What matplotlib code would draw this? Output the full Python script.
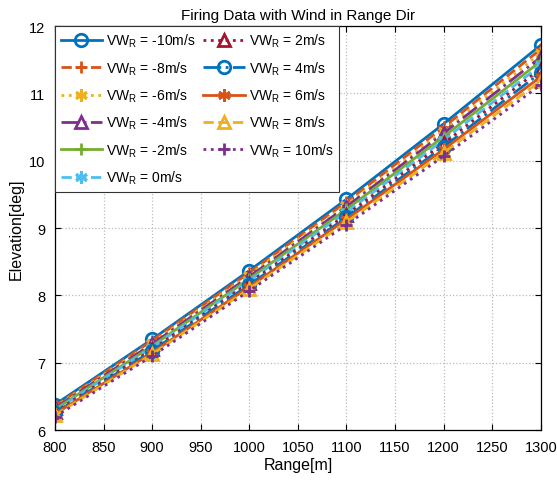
import numpy as np
import matplotlib
matplotlib.use('Agg')
import matplotlib.pyplot as plt

plt.rcParams['font.family'] = ['Liberation Sans', 'DejaVu Sans']
plt.rcParams['mathtext.fontset'] = 'custom'
plt.rcParams['mathtext.rm'] = 'Liberation Sans'

# 射程
ranges = [800, 900, 1000, 1100, 1200, 1300]
winds = [-10, -8, -6, -4, -2, 0, 2, 4, 6, 8, 10]

# 各风速下的射角
elev = [
    [6.38, 7.35, 8.37, 9.43, 10.55, 11.72],
    [6.36, 7.33, 8.34, 9.39, 10.50, 11.66],
    [6.345, 7.30, 8.31, 9.35, 10.45, 11.60],
    [6.33, 7.28, 8.28, 9.32, 10.41, 11.54],
    [6.31, 7.25, 8.25, 9.28, 10.36, 11.48],
    [6.29, 7.23, 8.22, 9.24, 10.31, 11.42],
    [6.27, 7.20, 8.19, 9.20, 10.26, 11.37],
    [6.255, 7.18, 8.16, 9.16, 10.21, 11.31],
    [6.24, 7.15, 8.13, 9.13, 10.17, 11.25],
    [6.22, 7.13, 8.10, 9.09, 10.12, 11.19],
    [6.20, 7.10, 8.07, 9.05, 10.07, 11.13],
]

colors = ['#0072BD', '#D95319', '#EDB120', '#7E2F8E', '#77AC30', '#4DBEEE',
          '#A2142F', '#0072BD', '#D95319', '#EDB120', '#7E2F8E']
styles = ['-', '--', ':', '-.', '-', '--', ':', '-.', '-', '--', ':']
star = (6, 2, 0)
markers = ['o', '+', star, '^', '+', star, '^', 'o', star, '^', '+']

fig = plt.figure(figsize=(5.57, 4.85), dpi=100)
ax = fig.add_axes([0.0987, 0.111, 0.8723, 0.833])

for i, w in enumerate(winds):
    ax.plot(ranges, elev[i], linestyle=styles[i], color=colors[i], marker=markers[i],
            markersize=9, markeredgewidth=2, markerfacecolor='none', linewidth=2,
            label=r'VW$_{\rm R}$ = %dm/s' % w)

ax.set_xlim(800, 1300)
ax.set_ylim(6, 12)
ax.set_xticks(np.arange(800, 1301, 50))
ax.set_yticks(np.arange(6, 12.1, 1))
ax.grid(True, linestyle=':', color='#bbbbbb', linewidth=0.9)
ax.tick_params(direction='in', top=True, right=True, labelsize=10.5, length=4, pad=7)
for s in ax.spines.values():
    s.set_linewidth(0.9)
ax.set_xlabel('Range[m]', fontsize=11.5, labelpad=2)
ax.set_ylabel('Elevation[deg]', fontsize=11.5, labelpad=4)
ax.set_title('Firing Data with Wind in Range Dir', fontsize=11, pad=5)

leg = ax.legend(loc='upper left', ncol=2, fontsize=10, frameon=True, fancybox=False,
                edgecolor='#333333', framealpha=1, borderaxespad=0, handlelength=3.0,
                columnspacing=0.5, handletextpad=0.3, labelspacing=0.72,
                borderpad=0.4)
leg.get_frame().set_linewidth(0.8)

fig.savefig('out.png', dpi=100)
